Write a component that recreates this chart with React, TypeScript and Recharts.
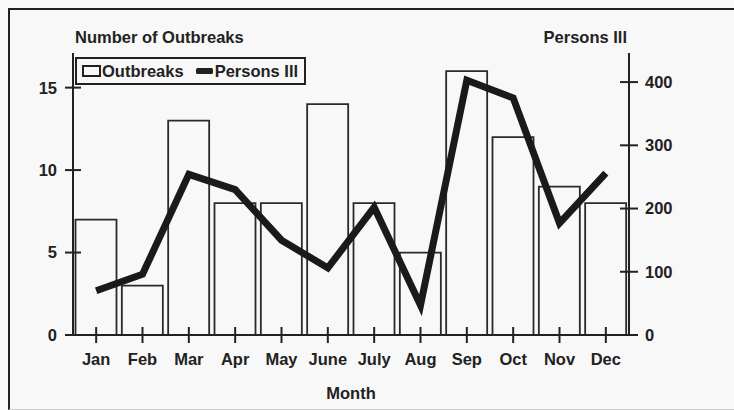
import React from "react";
import { ComposedChart, Bar, Line, XAxis, YAxis, Legend } from "recharts";

const months = ["Jan", "Feb", "Mar", "Apr", "May", "June", "July", "Aug", "Sep", "Oct", "Nov", "Dec"];
const outbreaks = [7, 3, 13, 8, 8, 14, 8, 5, 16, 12, 9, 8];
const personsIll = [70, 96, 254, 230, 150, 106, 202, 47, 403, 375, 177, 256];
const leftTicks = [0, 5, 10, 15];
const rightTicks = [0, 100, 200, 300, 400];

const data = months.map((m, i) => ({ month: m, outbreaks: outbreaks[i], persons: personsIll[i] }));

const INK = "#222";
const BG = "#f8f8f8";
const FONT = "'Liberation Sans', Arial, sans-serif";
const FS = 16.5;

const txt = { fontFamily: FONT, fontSize: FS, fontWeight: 700, fill: INK } as const;

const XTick = (p: any) => {
  const { x, y, payload } = p;
  return (
    <g>
      <line x1={x} x2={x} y1={y - 8} y2={y + 8} stroke={INK} strokeWidth={2} />
      <text x={x} y={y + 30} textAnchor="middle" {...txt}>{payload.value}</text>
    </g>
  );
};

const LeftTick = (p: any) => {
  const { x, y, payload } = p;
  return (
    <g>
      <line x1={x - 8} x2={x + 8} y1={y} y2={y} stroke={INK} strokeWidth={2} />
      <text x={x - 16} y={y} dy="0.36em" textAnchor="end" {...txt}>{payload.value}</text>
    </g>
  );
};

const RightTick = (p: any) => {
  const { x, y, payload } = p;
  return (
    <g>
      <line x1={x - 9} x2={x + 9} y1={y} y2={y} stroke={INK} strokeWidth={2} />
      <text x={x + 16} y={y} dy="0.36em" textAnchor="start" {...txt}>{payload.value}</text>
    </g>
  );
};

const LegendBox = () => (
  <div
    style={{
      display: "flex",
      alignItems: "center",
      border: `2px solid ${INK}`,
      background: BG,
      padding: "1px 6px 1px 5px",
      height: 22,
      fontFamily: FONT,
      fontSize: FS,
      fontWeight: 700,
      color: INK,
      whiteSpace: "nowrap",
      lineHeight: "22px",
    }}
  >
    <svg width={19} height={12} style={{ marginRight: 1 }}>
      <rect x={1} y={1} width={17} height={10} fill="none" stroke={INK} strokeWidth={2} />
    </svg>
    <span>Outbreaks</span>
    <svg width={18} height={12} style={{ marginLeft: 12, marginRight: 1 }}>
      <rect x={0} y={3} width={17} height={6} rx={1.5} fill={INK} />
    </svg>
    <span>Persons Ill</span>
  </div>
);

export default function App() {
  return (
    <div style={{ position: "absolute", left: 0, top: 0, width: 734, height: 410, background: BG, overflow: "hidden" }}>
      <div
        style={{
          position: "absolute",
          left: 8,
          top: 8,
          width: 740,
          height: 399,
          borderTop: `2px solid ${INK}`,
          borderLeft: `2px solid ${INK}`,
          borderBottom: "1px solid #cfcfcf",
        }}
      />
      <div style={{ position: "absolute", left: 0, top: 0 }}>
        <ComposedChart
          width={734}
          height={410}
          data={data}
          margin={{ top: 53, right: 45, bottom: 45, left: 13 }}
          barCategoryGap={2.5}
        >
          <XAxis
            dataKey="month"
            xAxisId="bottom"
            height={30}
            tickSize={0}
            tickMargin={0}
            tick={<XTick />}
            tickLine={false}
            axisLine={{ stroke: INK, strokeWidth: 2 }}
            interval={0}
            label={{
              content: (lp: any) => {
                const vb = lp.viewBox || {};
                return (
                  <text x={vb.x + vb.width / 2} y={vb.y + 64} textAnchor="middle" {...txt}>
                    Month
                  </text>
                );
              },
            }}
          />
          <XAxis
            dataKey="month"
            xAxisId="top"
            orientation="top"
            height={0}
            tick={false}
            tickLine={false}
            axisLine={{ stroke: INK, strokeWidth: 2 }}
          />
          <YAxis
            yAxisId="left"
            orientation="left"
            width={60}
            domain={[0, 17.1]}
            ticks={leftTicks}
            tickSize={0}
            tickMargin={0}
            tickLine={false}
            tick={<LeftTick />}
            axisLine={{ stroke: INK, strokeWidth: 2 }}
            label={{
              content: (lp: any) => {
                const vb = lp.viewBox || {};
                return (
                  <text x={vb.x + vb.width + 2} y={vb.y - 10} textAnchor="start" {...txt}>
                    Number of Outbreaks
                  </text>
                );
              },
            }}
          />
          <YAxis
            yAxisId="right"
            orientation="right"
            width={60}
            domain={[0, 446]}
            ticks={rightTicks}
            tickSize={0}
            tickMargin={0}
            tickLine={false}
            tick={<RightTick />}
            axisLine={{ stroke: INK, strokeWidth: 2 }}
            label={{
              content: (lp: any) => {
                const vb = lp.viewBox || {};
                return (
                  <text x={vb.x - 2} y={vb.y - 10} textAnchor="end" {...txt}>
                    Persons Ill
                  </text>
                );
              },
            }}
          />
          <Legend
            layout="horizontal"
            verticalAlign="middle"
            align="center"
            content={() => <LegendBox />}
            wrapperStyle={{ left: 75, top: 57, width: "auto", height: "auto" }}
          />
          <Bar
            dataKey="outbreaks"
            name="Outbreaks"
            xAxisId="bottom"
            yAxisId="left"
            fill={BG}
            stroke="#2a2a2a"
            strokeWidth={1.8}
            isAnimationActive={false}
          />
          <Line
            dataKey="persons"
            name="Persons Ill"
            xAxisId="bottom"
            yAxisId="right"
            type="linear"
            stroke="#1a1a1a"
            strokeWidth={7}
            strokeLinejoin="miter"
            dot={false}
            activeDot={false}
            isAnimationActive={false}
          />
        </ComposedChart>
      </div>
    </div>
  );
}
